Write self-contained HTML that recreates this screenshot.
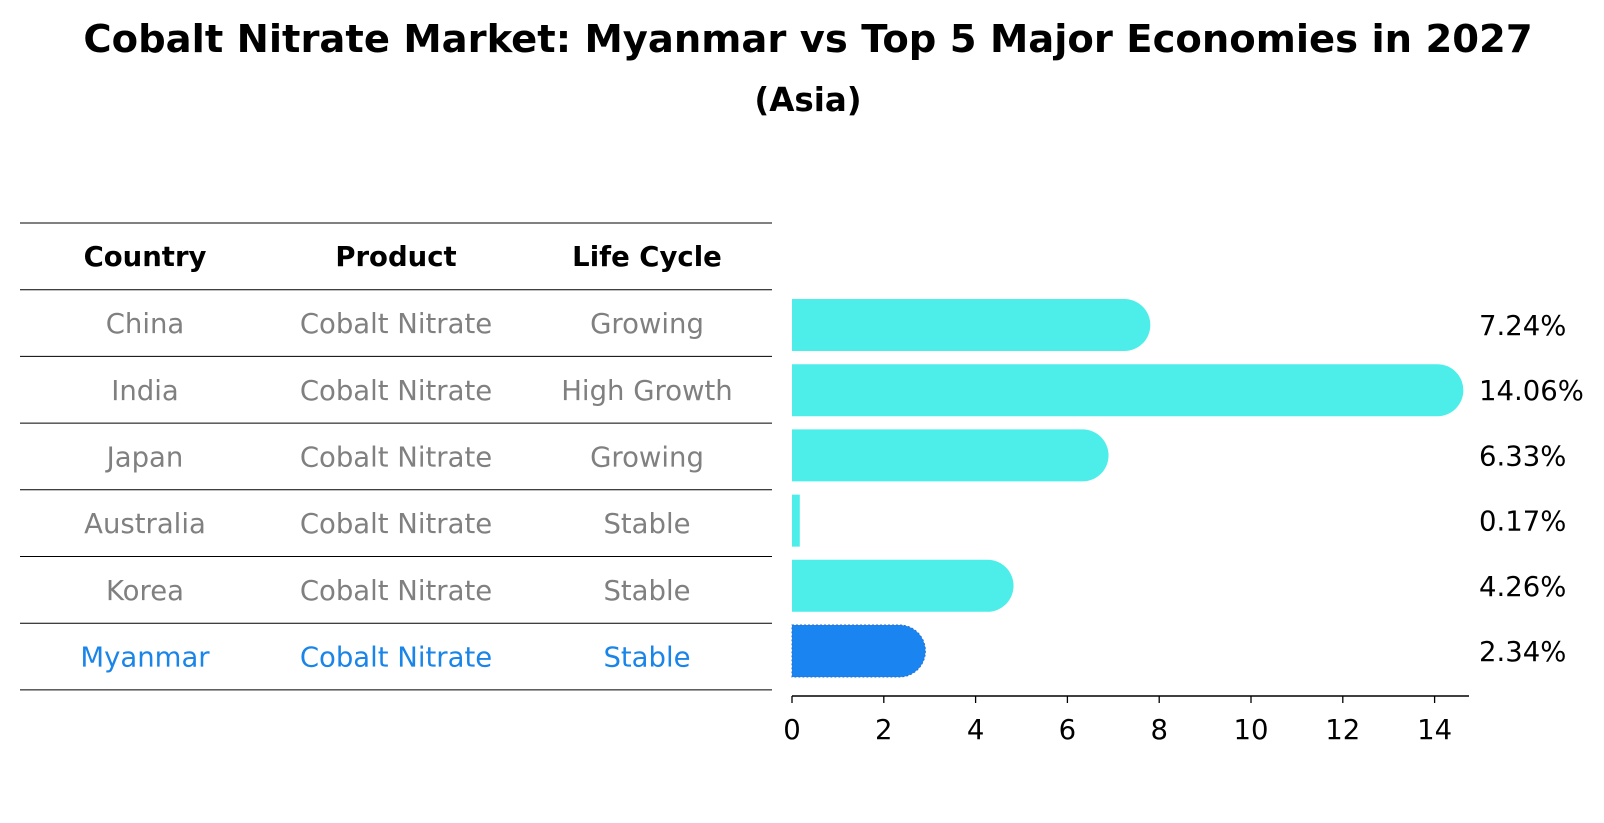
<!DOCTYPE html>
<html><head><meta charset="utf-8"><style>
body{margin:0;background:#fff;}
svg{display:block;font-family:"Liberation Sans","DejaVu Sans",sans-serif;}
</style></head><body>
<svg id="chart" width="1604" height="823" viewBox="0 0 1604 823" xmlns="http://www.w3.org/2000/svg">
<text x="808" y="52" text-anchor="middle" font-size="38.5" font-weight="bold" font-family="DejaVu Sans, sans-serif">Cobalt Nitrate Market: Myanmar vs Top 5 Major Economies in 2027</text>
<text x="808" y="111" text-anchor="middle" font-size="32.5" font-weight="bold" font-family="DejaVu Sans, sans-serif">(Asia)</text>
<g id="table"></g>
<g id="bars"></g>
</svg>
<script>
const countries=["China","India","Japan","Australia","Korea","Myanmar"];
const products=["Cobalt Nitrate","Cobalt Nitrate","Cobalt Nitrate","Cobalt Nitrate","Cobalt Nitrate","Cobalt Nitrate"];
const lifeCycles=["Growing","High Growth","Growing","Stable","Stable","Stable"];
const values=[7.24,14.06,6.33,0.17,4.26,2.34];
const ticks=[0,2,4,6,8,10,12,14];
const NS="http://www.w3.org/2000/svg";
function mk(tag,attrs,parent,text){const e=document.createElementNS(NS,tag);for(const k in attrs)e.setAttribute(k,attrs[k]);if(text!==undefined)e.textContent=text;parent.appendChild(e);return e;}
const tbl=document.getElementById('table');
const lineYs=i=>223+i*66.7;
for(let i=0;i<=countries.length+1;i++){const l=mk('line',{x1:20,x2:772,y1:lineYs(i),y2:lineYs(i),stroke:'#000','stroke-width':1},tbl);

}
const colX=[145,396,647];
["Country","Product","Life Cycle"].forEach((h,j)=>{const t=mk('text',{x:colX[j],y:266,'text-anchor':'middle','font-size':27.5,'font-weight':'bold','font-family':'DejaVu Sans, sans-serif'},tbl,h);

});
countries.forEach((c,i)=>{const y=(lineYs(i+1)+lineYs(i+2))/2+10;const col=c==="Myanmar"?"#1a85e8":"#808080";
[c,products[i],lifeCycles[i]].forEach((v,j)=>{const t=mk('text',{x:colX[j],y:y,'text-anchor':'middle','font-size':27.5,fill:col,'font-family':'DejaVu Sans, sans-serif'},tbl,v);

});});
const g=document.getElementById('bars');
const x0=792,sx=45.9;const X=v=>x0+v*sx;
const Y=i=>325+i*65.2;const bh=52,r=26;
values.forEach((v,i)=>{const xe=X(v),yt=Y(i)-bh/2;const my=countries[i]==="Myanmar";
const col=my?"#1a85f0":"#4deeea";
let d;
if(v>1){d=`M${x0},${yt} H${xe} A${r},${r} 0 0 1 ${xe},${yt+bh} H${x0} Z`;}
else{d=`M${x0},${yt} H${xe} V${yt+bh} H${x0} Z`;}
const p=mk('path',{d:d,fill:col},g);
if(my){p.setAttribute('stroke','#2a6fd0');p.setAttribute('stroke-dasharray','2,2');p.setAttribute('stroke-width','1');}


const t=mk('text',{x:1479,y:Y(i)+10,'font-size':27.5,'font-family':'DejaVu Sans, sans-serif'},g,v.toFixed(2)+'%');

});
const ax=mk('line',{x1:x0,x2:1469,y1:696,y2:696,stroke:'#000','stroke-width':1.5},g);


ticks.forEach(tv=>{const tk=mk('line',{x1:X(tv),x2:X(tv),y1:696,y2:703,stroke:'#000','stroke-width':1.3},g);


const t=mk('text',{x:X(tv),y:739,'text-anchor':'middle','font-size':27.5,'font-family':'DejaVu Sans, sans-serif'},g,String(tv));

});
</script>
</body></html>
